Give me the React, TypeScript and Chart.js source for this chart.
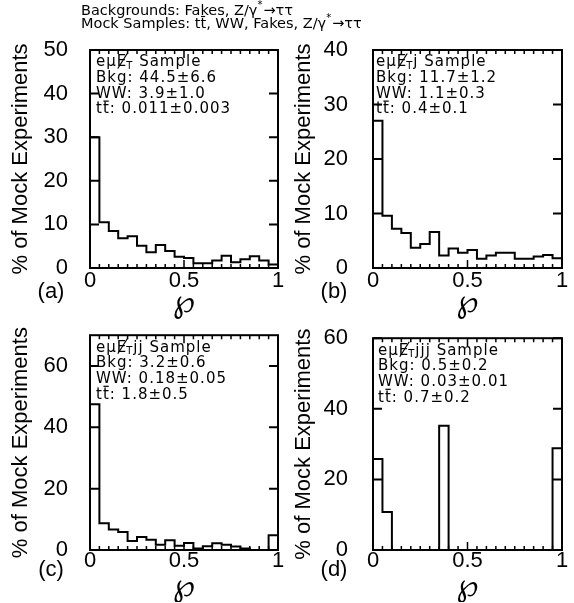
import React, { useEffect, useRef } from "react";
import { Chart, registerables } from "chart.js";
Chart.register(...registerables);

// ---- data ----
const binStarts = [0, 0.05, 0.1, 0.15, 0.2, 0.25, 0.3, 0.35, 0.4, 0.45, 0.5, 0.55, 0.6, 0.65, 0.7, 0.75, 0.8, 0.85, 0.9, 0.95];
const binEnd = 1;
const xTickValues = [0, 0.5, 1];

const histA = [30, 10.5, 8.5, 6.8, 7.3, 5.1, 3.6, 5.3, 3.9, 2.6, 2.3, 1.1, 1.1, 1.7, 2.8, 1.3, 2.0, 2.7, 1.7, 0.8];
const histB = [27, 9.6, 7.2, 6.4, 3.7, 4.4, 6.6, 2.3, 3.6, 2.8, 3.3, 1.7, 2.3, 2.8, 2.8, 1.7, 1.7, 2.1, 2.4, 1.8];
const histC = [47.5, 8.7, 6.7, 5.9, 2.9, 4.2, 3.3, 1.7, 3.2, 1.4, 2.3, 0.5, 1.2, 2.2, 1.7, 1.1, 0.5, 0, 0, 4.8];
const histD = [25.8, 10.8, 0, 0, 0, 0, 0, 35.2, 0, 0, 0, 0, 0, 0, 0, 0, 0, 0, 0, 28.8];

const yTicksA = [0, 10, 20, 30, 40, 50];
const yTicksB = [0, 10, 20, 30, 40];
const yTicksC = [0, 20, 40, 60];
const yTicksD = [0, 20, 40, 60];
const yMaxA = 50;
const yMaxB = 40;
const yMaxC = 70;
const yMaxD = 60;

const jetsA = "";
const jetsB = "j";
const jetsC = "jj";
const jetsD = "jjj";
const bkgA = "44.5±6.6";
const bkgB = "11.7±1.2";
const bkgC = "3.2±0.6";
const bkgD = "0.5±0.2";
const wwA = "3.9±1.0";
const wwB = "1.1±0.3";
const wwC = "0.18±0.05";
const wwD = "0.03±0.01";
const ttA = "0.011±0.003";
const ttB = "0.4±0.1";
const ttC = "1.8±0.5";
const ttD = "0.7±0.2";

const yTitle = "% of Mock Experiments";
const xTitle = "\u2118";
// header pieces: [text, hasBar]
const header1: [string, boolean][] = [["Backgrounds: Fakes, Z/γ", false]];
const header2: [string, boolean][] = [["Mock Samples: t", false], ["t", true], [", WW, Fakes, Z/γ", false]];
const headerTail = "→ττ";

type Panel = {
  id: string;
  label: string;
  hist: number[];
  yTicks: number[];
  yMax: number;
  jets: string;
  bkg: string;
  ww: string;
  tt: string;
  left: number;
  top: number;
  width: number;
  height: number;
  padTop: number;
  padRight: number;
  tickPad: number;
  xTickPad: number;
  xTitlePad: number;
  labelDy: number;
  textDx: number;
  header: boolean;
};

const panels: Panel[] = [
  { id: "a", label: "(a)", hist: histA, yTicks: yTicksA, yMax: yMaxA, jets: jetsA, bkg: bkgA, ww: wwA, tt: ttA,
    left: 0, top: 0, width: 574, height: 320, padTop: 50, padRight: 296, tickPad: 22, xTickPad: 0, xTitlePad: -3, labelDy: 24, textDx: 6, header: true },
  { id: "b", label: "(b)", hist: histB, yTicks: yTicksB, yMax: yMaxB, jets: jetsB, bkg: bkgB, ww: wwB, tt: ttB,
    left: 283, top: 0, width: 289, height: 320, padTop: 50, padRight: 10, tickPad: 25, xTickPad: 0, xTitlePad: -3, labelDy: 24, textDx: 3, header: false },
  { id: "c", label: "(c)", hist: histC, yTicks: yTicksC, yMax: yMaxC, jets: jetsC, bkg: bkgC, ww: wwC, tt: ttC,
    left: 0, top: 300, width: 288, height: 302, padTop: 32, padRight: 10, tickPad: 22, xTickPad: -2, xTitlePad: -5, labelDy: 20, textDx: 6, header: false },
  { id: "d", label: "(d)", hist: histD, yTicks: yTicksD, yMax: yMaxD, jets: jetsD, bkg: bkgD, ww: wwD, tt: ttD,
    left: 283, top: 300, width: 289, height: 302, padTop: 32, padRight: 10, tickPad: 25, xTickPad: -2, xTitlePad: -5, labelDy: 20, textDx: 5, header: false },
];

const TXT_FONT = "15px 'DejaVu Sans'";
const HDR_FONT = "14.5px 'DejaVu Sans'";
const SUB_FONT = "10px 'DejaVu Sans'";
const LABEL_FONT = "22px 'Liberation Sans'";

function barOver(ctx: CanvasRenderingContext2D, x0: number, w: number, y: number) {
  ctx.save();
  ctx.lineWidth = 1.2;
  ctx.beginPath();
  ctx.moveTo(x0, y);
  ctx.lineTo(x0 + w, y);
  ctx.stroke();
  ctx.restore();
}

function drawHeaderLine(ctx: CanvasRenderingContext2D, x: number, y: number, pieces: [string, boolean][]) {
  ctx.font = HDR_FONT;
  let cx = x;
  pieces.forEach(([t, bar]) => {
    ctx.fillText(t, cx, y);
    const w = ctx.measureText(t).width;
    if (bar) barOver(ctx, cx + 0.5, w - 1.5, y - 7.5);
    cx += w;
  });
  ctx.font = SUB_FONT;
  ctx.fillText("*", cx, y - 6);
  cx += ctx.measureText("*").width + 1;
  ctx.font = HDR_FONT;
  ctx.fillText(headerTail, cx, y);
}

function makePlugin(p: Panel) {
  return {
    id: "frame_" + p.id,
    afterDraw(chart: any) {
      const { ctx, chartArea: a, scales } = chart;
      const xs = scales.x;
      const ys = scales.y;
      ctx.save();
      ctx.strokeStyle = "#000";
      ctx.fillStyle = "#000";
      ctx.lineWidth = 2;
      ctx.strokeRect(a.left, a.top, a.right - a.left, a.bottom - a.top);
      ctx.beginPath();
      ys.ticks.forEach((t: any) => {
        const py = ys.getPixelForValue(t.value);
        ctx.moveTo(a.left, py);
        ctx.lineTo(a.left + 9, py);
        ctx.moveTo(a.right, py);
        ctx.lineTo(a.right - 9, py);
      });
      ctx.stroke();
      ctx.lineWidth = 1.5;
      ctx.beginPath();
      [...binStarts, binEnd].forEach((v) => {
        const px = xs.getPixelForValue(v);
        const len = xTickValues.includes(v) ? 8 : 4;
        ctx.moveTo(px, a.bottom);
        ctx.lineTo(px, a.bottom - len);
        ctx.moveTo(px, a.top);
        ctx.lineTo(px, a.top + len);
      });
      ctx.stroke();

      // annotation text
      ctx.textBaseline = "middle";
      ctx.textAlign = "left";
      (ctx as any).letterSpacing = "1px";
      const tx = a.left + p.textDx;
      const ty = a.top + 12.5;
      const dy = 15.7;
      ctx.font = TXT_FONT;
      ctx.fillText("eμ", tx, ty);
      let cx = tx + ctx.measureText("eμ").width;
      const ew = ctx.measureText("E").width;
      ctx.fillText("E", cx, ty);
      ctx.lineWidth = 1.2;
      ctx.beginPath();
      ctx.moveTo(cx + 1, ty + 6);
      ctx.lineTo(cx + ew, ty - 9);
      ctx.stroke();
      cx += ew - 1;
      ctx.font = SUB_FONT;
      ctx.fillText("T", cx, ty + 4);
      cx += ctx.measureText("T").width;
      ctx.font = TXT_FONT;
      ctx.fillText(p.jets + " Sample", cx, ty);
      ctx.fillText("Bkg: " + p.bkg, tx, ty + dy);
      ctx.fillText("WW: " + p.ww, tx, ty + 2 * dy);
      const y4 = ty + 3 * dy;
      ctx.fillText("t", tx, y4);
      const tw = ctx.measureText("t").width;
      ctx.fillText("t", tx + tw, y4);
      barOver(ctx, tx + tw + 0.5, tw - 1.5, y4 - 8.5);
      ctx.fillText(": " + p.tt, tx + 2 * tw, y4);
      (ctx as any).letterSpacing = "0px";

      // panel label
      ctx.font = LABEL_FONT;
      ctx.textAlign = "center";
      ctx.fillText(p.label, a.left - 39, a.bottom + p.labelDy);

      if (p.header) {
        ctx.textAlign = "left";
        drawHeaderLine(ctx, 81, 11, header1);
        drawHeaderLine(ctx, 81, 24, header2);
      }
      ctx.restore();
    },
  };
}

function makeConfig(p: Panel): any {
  const points = [...binStarts.map((x, i) => ({ x, y: p.hist[i] })), { x: binEnd, y: p.hist[p.hist.length - 1] }];
  return {
    type: "line",
    data: {
      datasets: [
        {
          data: points,
          stepped: "before",
          borderColor: "#000",
          borderWidth: 2,
          pointRadius: 0,
          fill: false,
          tension: 0,
        },
      ],
    },
    options: {
      responsive: false,
      animation: false,
      devicePixelRatio: 1,
      layout: { padding: { top: p.padTop, right: p.padRight, left: 0, bottom: 0 } },
      plugins: { legend: { display: false }, tooltip: { enabled: false } },
      scales: {
        x: {
          type: "linear",
          min: 0,
          max: 1,
          afterBuildTicks: (s: any) => {
            s.ticks = xTickValues.map((v) => ({ value: v }));
          },
          afterFit: (s: any) => {
            s.height = 52;
          },
          grid: { display: false, drawTicks: false },
          border: { display: false },
          ticks: {
            color: "#000",
            font: { family: "'Liberation Sans'", size: 22 },
            padding: p.xTickPad,
            maxRotation: 0,
            autoSkip: false,
            callback: (v: any) => String(v),
          },
          title: {
            display: true,
            text: xTitle,
            color: "#000",
            font: { family: "'DejaVu Sans'", size: 32 },
            padding: { top: 0, bottom: p.xTitlePad },
          },
        },
        y: {
          type: "linear",
          min: 0,
          max: p.yMax,
          afterBuildTicks: (s: any) => {
            s.ticks = p.yTicks.map((v) => ({ value: v }));
          },
          afterFit: (s: any) => {
            s.width = 90;
          },
          grid: { display: false, drawTicks: false },
          border: { display: false },
          ticks: {
            color: "#000",
            font: { family: "'Liberation Sans'", size: 22 },
            padding: p.tickPad,
            autoSkip: false,
            callback: (v: any) => String(v),
          },
          title: {
            display: true,
            text: yTitle,
            color: "#000",
            font: { family: "'Liberation Sans'", size: 22 },
            padding: { top: 8, bottom: 0 },
          },
        },
      },
    },
    plugins: [makePlugin(p)],
  };
}

export default function App() {
  const refs = useRef<(HTMLCanvasElement | null)[]>([]);
  useEffect(() => {
    const charts = panels.map((p, i) => new Chart(refs.current[i] as HTMLCanvasElement, makeConfig(p)));
    return () => charts.forEach((c) => c.destroy());
  }, []);
  return (
    <div style={{ position: "absolute", left: 0, top: 0, width: 574, height: 603, background: "#fff" }}>
      {panels.map((p, i) => (
        <canvas
          key={p.id}
          ref={(el) => {
            refs.current[i] = el;
          }}
          width={p.width}
          height={p.height}
          style={{ position: "absolute", left: p.left, top: p.top, width: p.width, height: p.height }}
        />
      ))}
    </div>
  );
}
